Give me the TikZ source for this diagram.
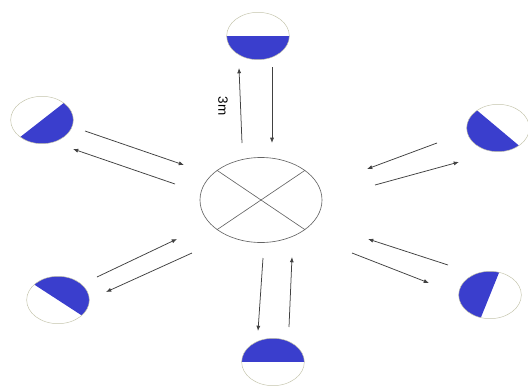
\documentclass[tikz,border=0pt]{standalone}
\usepackage{fontspec}
\setmainfont{Liberation Sans}
\usetikzlibrary{arrows.meta,shapes.geometric}
\definecolor{tankblue}{RGB}{58,62,205}
\definecolor{rimgray}{RGB}{195,195,170}
\definecolor{hubgray}{RGB}{100,100,100}
\definecolor{arrgray}{RGB}{65,65,65}

\begin{document}
\begin{tikzpicture}[x=0.03cm, y=-0.03cm,
    tank/.style={ellipse, draw=rimgray, thin, minimum width=1.88cm, minimum height=1.42cm, inner sep=0pt,
                 path picture={\fill[tankblue] (path picture bounding box.center) ++(#1+90:1.5cm)
                               -- ++(#1:1.5cm) -- ++(#1-90:3cm) -- ++(#1+180:1.5cm) -- cycle;}},
    hub/.style={ellipse, draw=hubgray, line width=0.55pt, minimum width=3.66cm, minimum height=2.55cm, inner sep=0pt},
    arr/.style={-{Latex[length=4.5pt,width=3.5pt]}, draw=arrgray, line width=0.65pt}
]
\useasboundingbox (0,0) rectangle (528,387);

\node[hub] (hub) at (261,200) {};
\draw[hubgray, line width=0.55pt] (hub.146) -- (hub.-34);
\draw[hubgray, line width=0.55pt] (hub.34) -- (hub.214);

\node[tank=-90]  (tN)  at (258,36)  {};
\node[tank=-52]  (tNW) at (42,120)  {};
\node[tank=-130] (tNE) at (498,128) {};
\node[tank=57]   (tSW) at (58,300)  {};
\node[tank=158]  (tSE) at (490,295) {};
\node[tank=90]   (tS)  at (273,362) {};

\node[rotate=-90, font=\fontsize{11.5}{13}\selectfont] (dist) at (223,106) {3m};

\coordinate (nOutA) at (242,143); \coordinate (nOutB) at (239,68);
\coordinate (nInA)  at (272,67);  \coordinate (nInB)  at (272,143);
\coordinate (nwInA)  at (85,131);  \coordinate (nwInB)  at (184,165);
\coordinate (nwOutA) at (175,184); \coordinate (nwOutB) at (73,149);
\coordinate (neInA)  at (437,143); \coordinate (neInB)  at (367,169);
\coordinate (neOutA) at (375,185); \coordinate (neOutB) at (459,162);
\coordinate (swInA)  at (97,277);  \coordinate (swInB)  at (177,239);
\coordinate (swOutA) at (192,253); \coordinate (swOutB) at (106,292);
\coordinate (seInA)  at (448,265); \coordinate (seInB)  at (368,239);
\coordinate (seOutA) at (352,253); \coordinate (seOutB) at (429,283);
\coordinate (sOutA) at (263,258); \coordinate (sOutB) at (258,331);
\coordinate (sInA)  at (289,327); \coordinate (sInB)  at (292,257);

\draw[arr] (nOutA) -- (nOutB);
\draw[arr] (nInA) -- (nInB);
\draw[arr] (nwInA) -- (nwInB);
\draw[arr] (nwOutA) -- (nwOutB);
\draw[arr] (neInA) -- (neInB);
\draw[arr] (neOutA) -- (neOutB);
\draw[arr] (swInA) -- (swInB);
\draw[arr] (swOutA) -- (swOutB);
\draw[arr] (seInA) -- (seInB);
\draw[arr] (seOutA) -- (seOutB);
\draw[arr] (sOutA) -- (sOutB);
\draw[arr] (sInA) -- (sInB);
\end{tikzpicture}
\end{document}
